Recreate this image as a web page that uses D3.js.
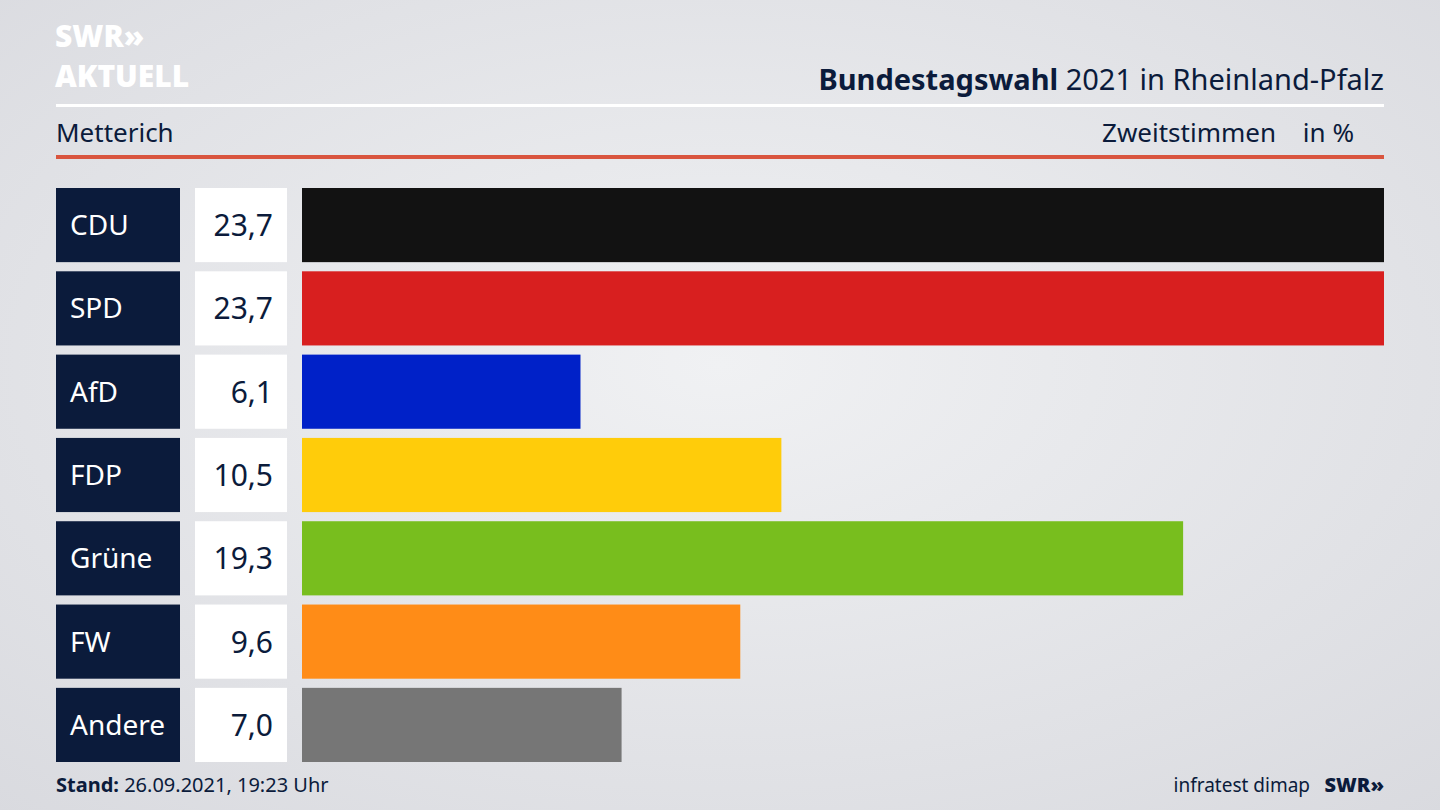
<!DOCTYPE html>
<html><head><meta charset="utf-8">
<script src="https://cdn.jsdelivr.net/npm/d3@7"></script>
<style>body{margin:0;overflow:hidden}svg{display:block}</style>
</head><body>
<svg id="c" width="1440" height="810"></svg>
<script>
const parties=["CDU","SPD","AfD","FDP","Grüne","FW","Andere"];
const values=[23.7,23.7,6.1,10.5,19.3,9.6,7.0];
const colors=["#121212","#d81f1f","#0021c8","#ffcc0a","#78be1e","#ff8c17","#767676"];
const svg=d3.select("#c");
const F="'Noto Sans','Open Sans',sans-serif";
const defs=svg.append("defs");
const g=defs.append("radialGradient").attr("id","bg").attr("cx","50%").attr("cy","45%").attr("r","75%");
g.append("stop").attr("offset","0").attr("stop-color","#f0f1f3");
g.append("stop").attr("offset","1").attr("stop-color","#d9dadf");
svg.append("rect").attr("width",1440).attr("height",810).attr("fill","url(#bg)");
svg.append("text").attr("x",55).attr("y",47).attr("font-family",F).attr("font-weight",900).attr("font-size",30).attr("fill","#fff").text("SWR»");
svg.append("text").attr("x",55).attr("y",87).attr("font-family",F).attr("font-weight",900).attr("font-size",30).attr("fill","#fff").text("AKTUELL");
const t=svg.append("text").attr("x",1384).attr("y",90).attr("text-anchor","end").attr("font-family",F).attr("font-size",29).attr("fill","#0b1b3b");
t.append("tspan").attr("font-weight",700).text("Bundestagswahl");
t.append("tspan").text(" 2021 in Rheinland-Pfalz");
svg.append("rect").attr("x",56).attr("y",104).attr("width",1328).attr("height",3).attr("fill","#fff");
svg.append("text").attr("x",56).attr("y",142).attr("font-family",F).attr("font-size",26).attr("fill","#0b1b3b").text("Metterich");
svg.append("text").attr("x",1276).attr("y",142).attr("text-anchor","end").attr("font-family",F).attr("font-size",26).attr("fill","#0b1b3b").text("Zweitstimmen");
svg.append("text").attr("x",1354).attr("y",142).attr("text-anchor","end").attr("font-family",F).attr("font-size",26).attr("fill","#0b1b3b").text("in %");
svg.append("rect").attr("x",56).attr("y",155).attr("width",1328).attr("height",4).attr("fill","#d9553f");
const x=d3.scaleLinear().domain([0,23.7]).range([302,1384]);
const y=d3.scaleBand().domain(parties).range([188,762]).paddingInner(0.11).paddingOuter(0);
const rows=svg.selectAll("g.r").data(parties).join("g");
rows.append("rect").attr("x",56).attr("y",d=>y(d)).attr("width",124).attr("height",y.bandwidth()).attr("fill","#0b1b3b");
rows.append("text").attr("x",70).attr("y",d=>y(d)+y.bandwidth()/2+10).attr("font-family",F).attr("font-size",28).attr("fill","#fff").text(d=>d);
rows.append("rect").attr("x",195).attr("y",d=>y(d)).attr("width",92).attr("height",y.bandwidth()).attr("fill","#fff");
rows.append("text").attr("x",273).attr("y",d=>y(d)+y.bandwidth()/2+11).attr("text-anchor","end").attr("font-family",F).attr("font-size",30).attr("fill","#0b1b3b").text((d,i)=>values[i].toFixed(1).replace(".",","));
rows.append("rect").attr("x",x(0)).attr("y",d=>y(d)).attr("width",(d,i)=>x(values[i])-x(0)).attr("height",y.bandwidth()).attr("fill",(d,i)=>colors[i]);
const f=svg.append("text").attr("x",56).attr("y",792).attr("font-family",F).attr("font-size",20).attr("fill","#0b1b3b");
f.append("tspan").attr("font-weight",700).text("Stand:");
f.append("tspan").text(" 26.09.2021, 19:23 Uhr");
svg.append("text").attr("x",1310).attr("y",792).attr("text-anchor","end").attr("font-family",F).attr("font-size",19).attr("fill","#0b1b3b").text("infratest dimap");
svg.append("text").attr("x",1384).attr("y",792).attr("text-anchor","end").attr("font-family",F).attr("font-weight",900).attr("font-size",20).attr("fill","#0b1b3b").text("SWR»");
</script></body></html>
